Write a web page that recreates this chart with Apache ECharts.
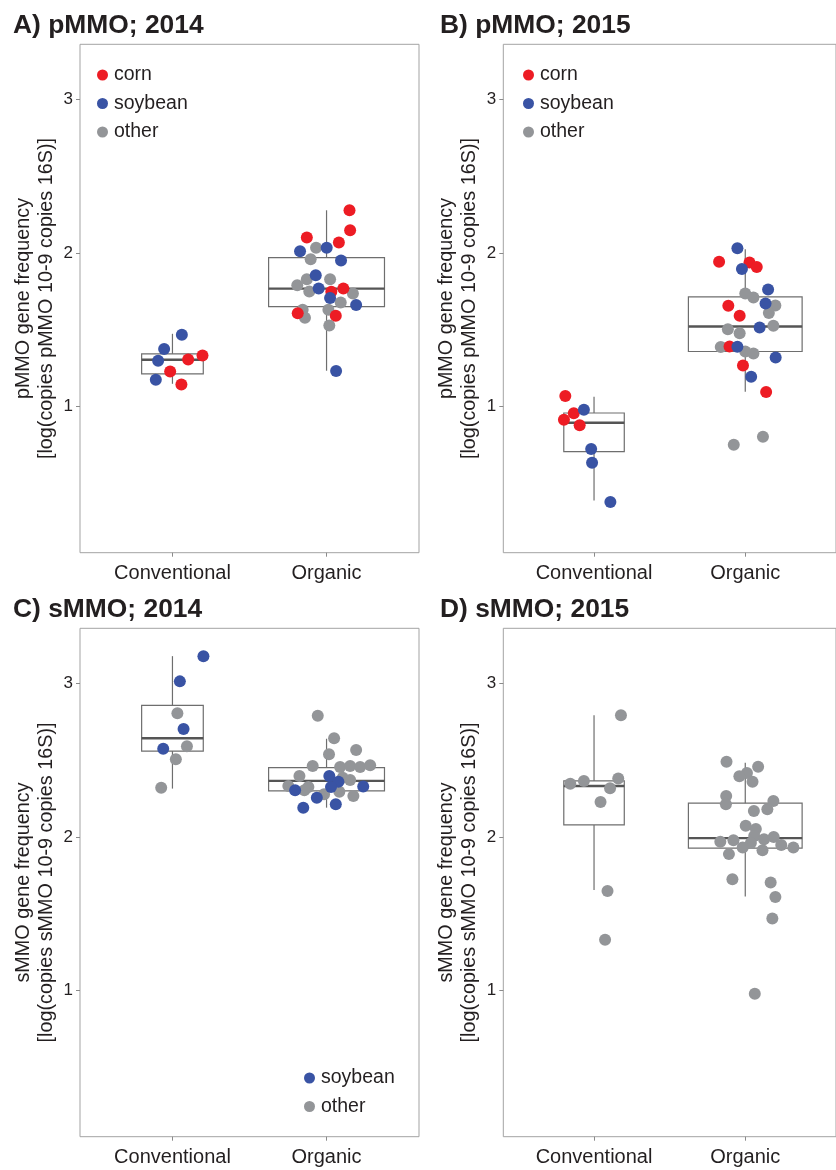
<!DOCTYPE html>
<html><head><meta charset="utf-8">
<script src="https://cdn.jsdelivr.net/npm/echarts@6/dist/echarts.min.js"></script>
<style>html,body{margin:0;padding:0;background:#fff}#c{width:836px;height:1170px}</style>
</head><body><div id="c"></div>
<script>
// ---------------- data ----------------
const categories = ['Conventional', 'Organic'];
const yTicks = [1, 2, 3];
const panelTitles = ['A) pMMO; 2014', 'B) pMMO; 2015', 'C) sMMO; 2014', 'D) sMMO; 2015'];
const yNames = [
  'pMMO gene frequency\n[log(copies pMMO 10-9 copies 16S)]',
  'pMMO gene frequency\n[log(copies pMMO 10-9 copies 16S)]',
  'sMMO gene frequency\n[log(copies sMMO 10-9 copies 16S)]',
  'sMMO gene frequency\n[log(copies sMMO 10-9 copies 16S)]'
];
const crops = ['other', 'corn', 'soybean'];
const legendCropsAB = ['corn', 'soybean', 'other'];
const legendCropsC = ['soybean', 'other'];

// points: [crop, horizontal jitter (category units), value]
const A_conventional = [
  ['soybean', 0.061, 1.468], ['soybean', -0.054, 1.375], ['soybean', -0.093, 1.299],
  ['corn', 0.102, 1.307], ['corn', 0.195, 1.333], ['corn', -0.015, 1.229],
  ['soybean', -0.108, 1.175], ['corn', 0.058, 1.145]
];
const A_organic = [
  ['corn', 0.149, 2.277], ['corn', 0.153, 2.147], ['corn', -0.128, 2.100], ['corn', 0.080, 2.067],
  ['soybean', 0.001, 2.034], ['other', -0.068, 2.034], ['soybean', -0.172, 2.011],
  ['other', -0.103, 1.959], ['soybean', 0.094, 1.950], ['soybean', -0.070, 1.855],
  ['other', 0.023, 1.829], ['other', -0.128, 1.829], ['other', -0.190, 1.790],
  ['soybean', -0.051, 1.768], ['other', -0.112, 1.749], ['corn', 0.109, 1.768],
  ['corn', 0.031, 1.747], ['other', 0.171, 1.736], ['soybean', 0.023, 1.706],
  ['other', 0.092, 1.677], ['soybean', 0.192, 1.662], ['other', -0.155, 1.630],
  ['corn', -0.187, 1.608], ['other', -0.140, 1.578], ['other', 0.012, 1.630],
  ['corn', 0.060, 1.591], ['other', 0.018, 1.528], ['soybean', 0.062, 1.232]
];
const B_conventional = [
  ['corn', -0.190, 1.069], ['soybean', -0.067, 0.981], ['corn', -0.134, 0.957],
  ['corn', -0.199, 0.916], ['corn', -0.095, 0.879], ['soybean', -0.019, 0.725],
  ['soybean', -0.013, 0.636], ['soybean', 0.108, 0.381]
];
const B_organic = [
  ['soybean', -0.052, 2.030], ['corn', -0.173, 1.942], ['corn', 0.028, 1.937],
  ['corn', 0.076, 1.909], ['soybean', -0.022, 1.896], ['soybean', 0.151, 1.762],
  ['other', 0.000, 1.736], ['other', 0.054, 1.710], ['soybean', 0.134, 1.671],
  ['other', 0.199, 1.658], ['corn', -0.112, 1.656], ['other', 0.156, 1.610],
  ['corn', -0.037, 1.591], ['other', 0.186, 1.526], ['soybean', 0.095, 1.515],
  ['other', -0.115, 1.504], ['other', -0.037, 1.478], ['other', -0.162, 1.388],
  ['corn', -0.104, 1.392], ['soybean', -0.052, 1.390], ['other', 0.000, 1.359],
  ['other', 0.054, 1.346], ['soybean', 0.201, 1.320], ['corn', -0.015, 1.268],
  ['soybean', 0.039, 1.195], ['corn', 0.138, 1.095], ['other', 0.117, 0.805],
  ['other', -0.076, 0.753]
];
const C_conventional = [
  ['soybean', 0.201, 3.175], ['soybean', 0.048, 3.011], ['other', 0.032, 2.803],
  ['soybean', 0.072, 2.701], ['other', 0.094, 2.589], ['soybean', -0.060, 2.573],
  ['other', 0.022, 2.504], ['other', -0.073, 2.320]
];
const C_organic = [
  ['other', -0.057, 2.788], ['other', 0.049, 2.641], ['other', 0.192, 2.565],
  ['other', 0.016, 2.537], ['other', -0.090, 2.461], ['other', 0.088, 2.455],
  ['other', 0.153, 2.461], ['other', 0.218, 2.455], ['other', 0.283, 2.466],
  ['other', -0.176, 2.396], ['soybean', 0.018, 2.396], ['other', 0.105, 2.385],
  ['other', 0.153, 2.370], ['soybean', 0.077, 2.359], ['other', -0.248, 2.331],
  ['other', -0.118, 2.325], ['soybean', 0.029, 2.325], ['soybean', 0.238, 2.327],
  ['soybean', -0.204, 2.303], ['other', -0.144, 2.303], ['other', -0.016, 2.277],
  ['other', 0.083, 2.294], ['soybean', -0.063, 2.255], ['other', 0.174, 2.266],
  ['soybean', -0.151, 2.190], ['soybean', 0.060, 2.212]
];
const D_conventional = [
  ['other', 0.178, 2.790], ['other', -0.157, 2.346], ['other', -0.067, 2.364],
  ['other', 0.160, 2.379], ['other', 0.106, 2.316], ['other', 0.043, 2.227],
  ['other', 0.089, 1.649], ['other', 0.073, 1.331]
];
const D_organic = [
  ['other', -0.124, 2.489], ['other', 0.085, 2.456], ['other', 0.011, 2.416],
  ['other', -0.039, 2.394], ['other', 0.048, 2.359], ['other', -0.126, 2.266],
  ['other', -0.128, 2.212], ['other', 0.186, 2.234], ['other', 0.057, 2.169],
  ['other', 0.146, 2.180], ['other', 0.003, 2.073], ['other', 0.070, 2.052],
  ['other', 0.059, 2.006], ['other', 0.124, 1.985], ['other', 0.188, 2.000],
  ['other', -0.165, 1.969], ['other', -0.078, 1.978], ['other', 0.037, 1.961],
  ['other', -0.017, 1.931], ['other', 0.114, 1.913], ['other', 0.238, 1.948],
  ['other', 0.318, 1.931], ['other', -0.108, 1.888], ['other', -0.085, 1.725],
  ['other', 0.168, 1.703], ['other', 0.199, 1.610], ['other', 0.179, 1.469],
  ['other', 0.063, 0.981]
];

// box statistics: [lower whisker, Q1, median, Q3, upper whisker] for Conventional, Organic
const A_boxes = [[1.149, 1.214, 1.305, 1.344, 1.474], [1.234, 1.651, 1.768, 1.969, 2.277]];
const B_boxes = [[0.390, 0.708, 0.896, 0.959, 1.065], [1.097, 1.359, 1.521, 1.714, 2.024]];
const C_boxes = [[2.314, 2.558, 2.641, 2.855, 3.175], [2.190, 2.299, 2.364, 2.450, 2.638]];
const D_boxes = [[1.654, 2.078, 2.331, 2.364, 2.790], [1.612, 1.927, 1.992, 2.219, 2.482]];

// ---------------- styles / layout ----------------
const FONT = '"Liberation Sans", Arial, Helvetica, sans-serif';
const cropColors = { corn: '#ED1C24', soybean: '#3953A4', other: '#939598' };
const boxHalfWidth = [0.2, 0.376];
const panels = [
  { pts: [A_conventional, A_organic], boxes: A_boxes, left: 80, top: 44.3 },
  { pts: [B_conventional, B_organic], boxes: B_boxes, left: 503.3, top: 44.3 },
  { pts: [C_conventional, C_organic], boxes: C_boxes, left: 80, top: 628.3 },
  { pts: [D_conventional, D_organic], boxes: D_boxes, left: 503.3, top: 628.3 }
];
const titlePos = [[13, 13], [440, 13], [13, 597], [440, 597]];

const grid = [], xAxis = [], yAxis = [], series = [], title = [];
panels.forEach((p, i) => {
  grid.push({ left: p.left, top: p.top, width: 339, height: 508.4, show: true,
    borderColor: '#a3a3a3', borderWidth: 1, backgroundColor: 'transparent' });
  xAxis.push({ type: 'value', gridIndex: i, min: 0.4, max: 2.6,
    splitLine: { show: false }, axisLine: { show: false },
    axisTick: { show: true, customValues: [1, 2], length: 4, lineStyle: { color: '#8a8a8a' } },
    axisLabel: { customValues: [1, 2], formatter: v => categories[Math.round(v) - 1] || '',
      fontFamily: FONT, fontSize: 20, color: '#231f20', margin: 11 } });
  yAxis.push({ type: 'value', gridIndex: i, min: 0.051, max: 3.356,
    splitLine: { show: false }, axisLine: { show: false },
    axisTick: { show: true, customValues: yTicks, length: 4, lineStyle: { color: '#8a8a8a' } },
    axisLabel: { customValues: yTicks, fontFamily: FONT, fontSize: 17, color: '#231f20', margin: 7 },
    name: yNames[i], nameLocation: 'middle', nameRotate: 90, nameGap: 22,
    nameTextStyle: { fontFamily: FONT, fontSize: 19.8, lineHeight: 23, color: '#231f20' } });
  title.push({ text: panelTitles[i], left: titlePos[i][0], top: titlePos[i][1], padding: 0,
    textStyle: { fontFamily: FONT, fontSize: 26.4, fontWeight: 'bold', color: '#231f20' } });

  series.push({
    type: 'custom', xAxisIndex: i, yAxisIndex: i, z: 1, silent: true,
    data: p.boxes.map((b, k) => [k + 1, b[0], b[1], b[2], b[3], b[4], boxHalfWidth[k]]),
    encode: { x: 0, y: 3 },
    renderItem: (params, api) => {
      const x = api.value(0), hw = api.value(6);
      const lw = api.coord([x, api.value(1)]);
      const q1 = api.coord([x, api.value(2)]);
      const md = api.coord([x, api.value(3)]);
      const q3 = api.coord([x, api.value(4)]);
      const uw = api.coord([x, api.value(5)]);
      const l = api.coord([x - hw, api.value(3)])[0];
      const r = api.coord([x + hw, api.value(3)])[0];
      const ls = { stroke: '#6e6e6e', lineWidth: 1.2 };
      return { type: 'group', children: [
        { type: 'line', shape: { x1: uw[0], y1: uw[1], x2: q3[0], y2: q3[1] }, style: ls },
        { type: 'line', shape: { x1: q1[0], y1: q1[1], x2: lw[0], y2: lw[1] }, style: ls },
        { type: 'rect', shape: { x: l, y: q3[1], width: r - l, height: q1[1] - q3[1] },
          style: { fill: 'none', stroke: '#6e6e6e', lineWidth: 1.2 } },
        { type: 'line', shape: { x1: l, y1: md[1], x2: r, y2: md[1] },
          style: { stroke: '#555555', lineWidth: 2.4 } }
      ] };
    }
  });

  crops.forEach(crop => {
    const data = [];
    p.pts.forEach((arr, k) => arr.forEach(pt => { if (pt[0] === crop) data.push([k + 1 + pt[1], pt[2]]); }));
    if (!data.length) return;
    series.push({ type: 'scatter', name: crop, xAxisIndex: i, yAxisIndex: i, z: 3,
      symbol: 'circle', symbolSize: 12, data, silent: true,
      itemStyle: { color: cropColors[crop], opacity: 1 } });
  });
});

const legendBase = { orient: 'vertical', icon: 'circle', itemWidth: 11, itemHeight: 11,
  itemGap: 8.5, selectedMode: false, padding: 0,
  textStyle: { fontFamily: FONT, fontSize: 19.5, color: '#231f20', padding: [0, 0, 0, 1] } };
const legend = [
  Object.assign({}, legendBase, { data: legendCropsAB, left: 97, top: 65 }),
  Object.assign({}, legendBase, { data: legendCropsAB, left: 523, top: 65 }),
  Object.assign({}, legendBase, { data: legendCropsC, left: 304, top: 1068 })
];

const chart = echarts.init(document.getElementById('c'), null, { renderer: 'canvas' });
chart.setOption({ animation: false, backgroundColor: '#ffffff', title, grid, xAxis, yAxis, legend, series });
</script>
</body></html>
